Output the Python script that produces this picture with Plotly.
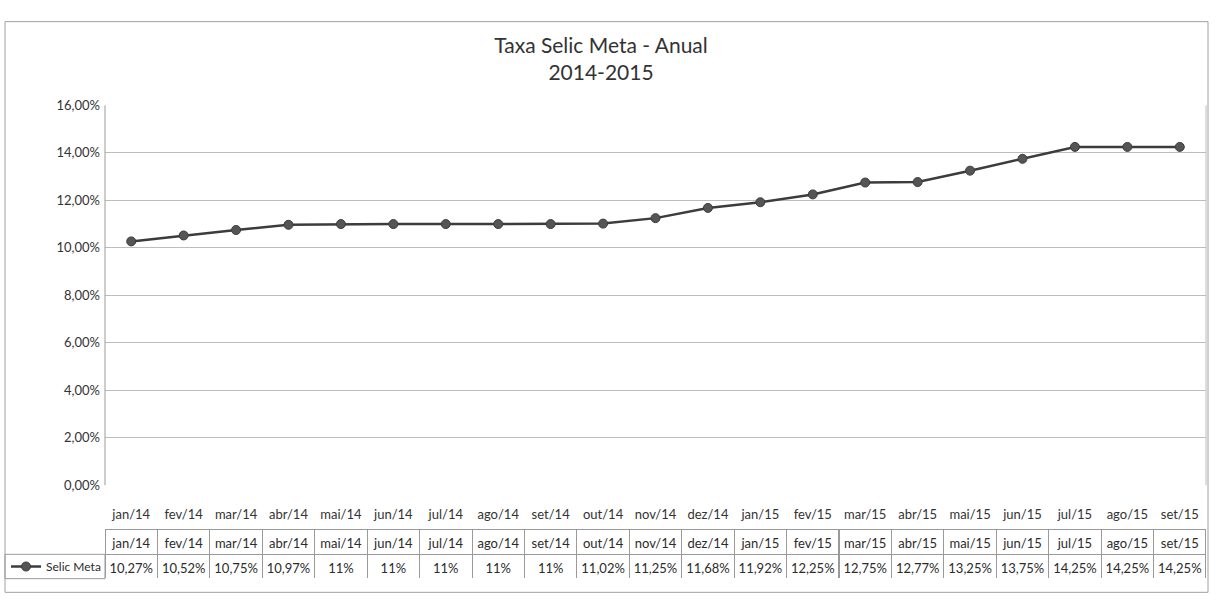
import plotly.graph_objects as go

W, H = 1216, 612

categories = ["jan/14", "fev/14", "mar/14", "abr/14", "mai/14", "jun/14", "jul/14",
              "ago/14", "set/14", "out/14", "nov/14", "dez/14", "jan/15", "fev/15",
              "mar/15", "abr/15", "mai/15", "jun/15", "jul/15", "ago/15", "set/15"]
selic_meta = [10.27, 10.52, 10.75, 10.97, 11, 11, 11, 11, 11, 11.02, 11.25, 11.68,
              11.92, 12.25, 12.75, 12.77, 13.25, 13.75, 14.25, 14.25, 14.25]
series_name = "Selic Meta"
y_ticks = [0, 2, 4, 6, 8, 10, 12, 14, 16]

FONT = "Lato, 'Open Sans', sans-serif"
TXT = "#2b2b2b"
GRID = "#bdbdbd"

def px_x(p):
    return p / W

def px_y(p):
    return 1 - p / H

# plot area in pixels
PL, PR, PT, PB = 105, 1206, 100, 490
# table rows
T_TOP, T_MID, T_BOT = 536, 561, 586
LEG_L = 6

def fmt(v):
    return f"{v:g}".replace(".", ",") + "%"

def fmt_tick(v):
    return f"{v:.2f}".replace(".", ",") + "%"

fig = go.Figure()

fig.add_trace(go.Scatter(
    x=categories, y=selic_meta, name=series_name, mode="lines+markers",
    line=dict(color="#3c3c3c", width=2.5),
    marker=dict(symbol="circle", size=9, color="#555555",
                line=dict(color="#3c3c3c", width=1)),
    showlegend=True,
))

fig.add_trace(go.Table(
    domain=dict(x=[px_x(PL), px_x(PR)], y=[px_y(T_BOT), px_y(T_TOP)]),
    header=dict(values=categories, height=T_MID - T_TOP,
                fill_color="white", line=dict(color="#9a9a9a", width=1),
                font=dict(family=FONT, size=13, color=TXT), align="center"),
    cells=dict(values=[[fmt(v)] for v in selic_meta], height=T_BOT - T_MID,
               fill_color="white", line=dict(color="#9a9a9a", width=1),
               font=dict(family=FONT, size=13, color=TXT), align="center"),
))

shapes = [
    # outer chart border
    dict(type="rect", xref="paper", yref="paper",
         x0=px_x(5), x1=px_x(1208), y0=px_y(600), y1=px_y(14),
         line=dict(color="#a0a0a0", width=1)),
    # legend key cell
    dict(type="rect", xref="paper", yref="paper",
         x0=px_x(5), x1=px_x(PL), y0=px_y(T_BOT), y1=px_y(T_MID),
         line=dict(color="#9a9a9a", width=1)),
    # plot area left border
    dict(type="line", xref="paper", yref="paper",
         x0=px_x(PL), x1=px_x(PL), y0=px_y(PB), y1=px_y(PT),
         line=dict(color="#9a9a9a", width=1)),
    # plot area right border
    dict(type="line", xref="paper", yref="paper",
         x0=px_x(PR), x1=px_x(PR), y0=px_y(PB), y1=px_y(PT),
         line=dict(color="#bdbdbd", width=1)),
]

fig.update_layout(
    width=W, height=H,
    margin=dict(l=0, r=0, t=0, b=0),
    paper_bgcolor="white", plot_bgcolor="white",
    font=dict(family=FONT, size=13, color=TXT),
    title=dict(text="Taxa Selic Meta - Anual<br>2014-2015",
               x=px_x(601), xanchor="center", y=px_y(53), yanchor="middle",
               font=dict(family=FONT, size=21, color="#333333")),
    xaxis=dict(domain=[px_x(PL), px_x(PR)], type="category",
               range=[-0.5, len(categories) - 0.5],
               showgrid=False, showline=False, zeroline=False,
               ticks="", ticklabelstandoff=20,
               tickfont=dict(family=FONT, size=13, color="#333333")),
    yaxis=dict(domain=[px_y(PB), px_y(PT)], range=[0, 16],
               tickvals=y_ticks, ticktext=[fmt_tick(v) for v in y_ticks],
               showgrid=True, gridcolor=GRID, gridwidth=1,
               zeroline=False, showline=False, ticks="",
               ticklabelstandoff=4,
               tickfont=dict(family=FONT, size=13, color="#333333")),
    legend=dict(x=px_x(LEG_L), y=px_y((T_MID + T_BOT) / 2),
                xanchor="left", yanchor="middle",
                bgcolor="rgba(0,0,0,0)", borderwidth=0,
                itemwidth=30, tracegroupgap=0,
                font=dict(family=FONT, size=12, color=TXT)),
    shapes=shapes,
)

fig.write_html("out.html", config={"displayModeBar": False},
               post_script="document.body.style.margin='0';document.body.style.overflow='hidden';")
